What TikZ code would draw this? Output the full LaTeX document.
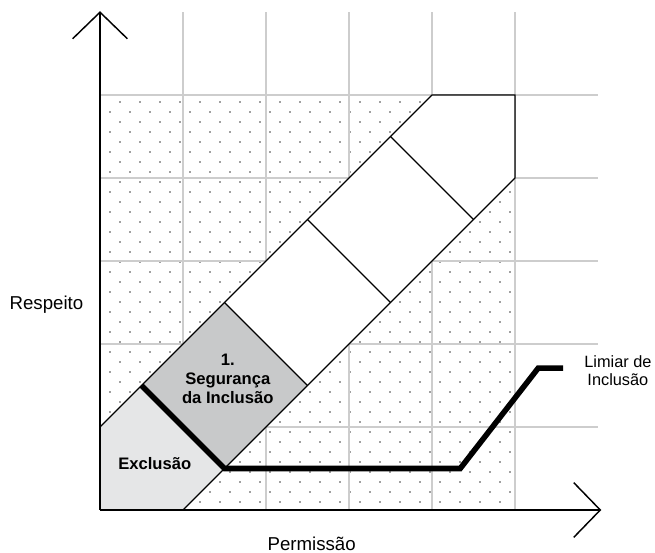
\documentclass[tikz,border=0pt]{standalone}
\usepackage{fontspec}
\setmainfont{Liberation Sans}
\usepackage{tikz}
\usetikzlibrary{arrows.meta}

\definecolor{gridgray}{RGB}{205,205,205}
\definecolor{dotgray}{RGB}{160,160,160}
\definecolor{exclfill}{RGB}{229,230,231}
\definecolor{segfill}{RGB}{200,201,202}

\begin{document}
\begin{tikzpicture}[x=1cm, y=1cm,
  axisline/.style={line width=0.5pt, -{Straight Barb[length=0.32cm, width=0.66cm]}},
  gridline/.style={gridgray, line width=0.4pt},
  edge/.style={line width=0.45pt, line join=miter},
  limiar/.style={line width=1.9pt, line join=miter},
  labeltext/.style={font=\fontsize{6.4}{6.8}\selectfont, align=center},
  sidetext/.style={font=\fontsize{5.6}{6.15}\selectfont, align=center},
  boldtext/.style={font=\fontsize{5.7}{6.5}\selectfont\bfseries, align=center}]
\useasboundingbox (-1.205,-0.518) rectangle (6.687,6.145);
%%%%% Dots %%%%%
\foreach \j in {0,...,40}{
\foreach \i in {0,...,20}{
\fill[dotgray] ({0.241*\i+0.1205*mod(\j,2)-0.012},{4.912-0.1205*\j-0.012}) rectangle +(0.024,0.024);
}
}
%%%%% Grid %%%%%
\foreach \x in {1,...,5}{
\draw[gridline] (\x,0)--(\x,6);
}
\foreach \y in {1,...,5}{
\draw[gridline] (0,\y)--(6,\y);
}
%%%%% Pencil %%%%%
\fill[white] (0,1)--(4,5)--(5,5)--(5,4)--(1,0)--(0,0)--cycle;
\fill[exclfill] (0,1)--(0.5,1.5)--(1.5,0.5)--(1,0)--(0,0)--cycle;
\fill[segfill] (0.5,1.5)--(1.5,2.5)--(2.5,1.5)--(1.5,0.5)--cycle;
\draw[edge] (0,1)--(4,5)--(5,5)--(5,4)--(1,0);
\draw[edge] (1.5,2.5)--(2.5,1.5);
\draw[edge] (2.5,3.5)--(3.5,2.5);
\draw[edge] (3.5,4.5)--(4.5,3.5);
%%%%% Axis %%%%%
\draw[axisline] (0,0)--(0,6.01);
\draw[axisline] (0,0)--(6.04,0);
%%%%% Threshold %%%%%
\draw[limiar] (0.5,1.5)--(1.5,0.5)--(4.34,0.5)--(5.28,1.71)--(5.58,1.71);
%%%%% Labels %%%%%
\node[labeltext] (respeito) at (-0.645,2.47) {Respeito};
\node[labeltext] (permissao) at (2.55,-0.41) {Permissão};
\node[sidetext] (limiar) at (6.24,1.675) {Limiar de\\Inclusão};
\node[boldtext] (exclusao) at (0.66,0.554) {Exclusão};
\node[boldtext] (seguranca) at (1.54,1.578) {1.\\Segurança\\da Inclusão};
\end{tikzpicture}
\end{document}
